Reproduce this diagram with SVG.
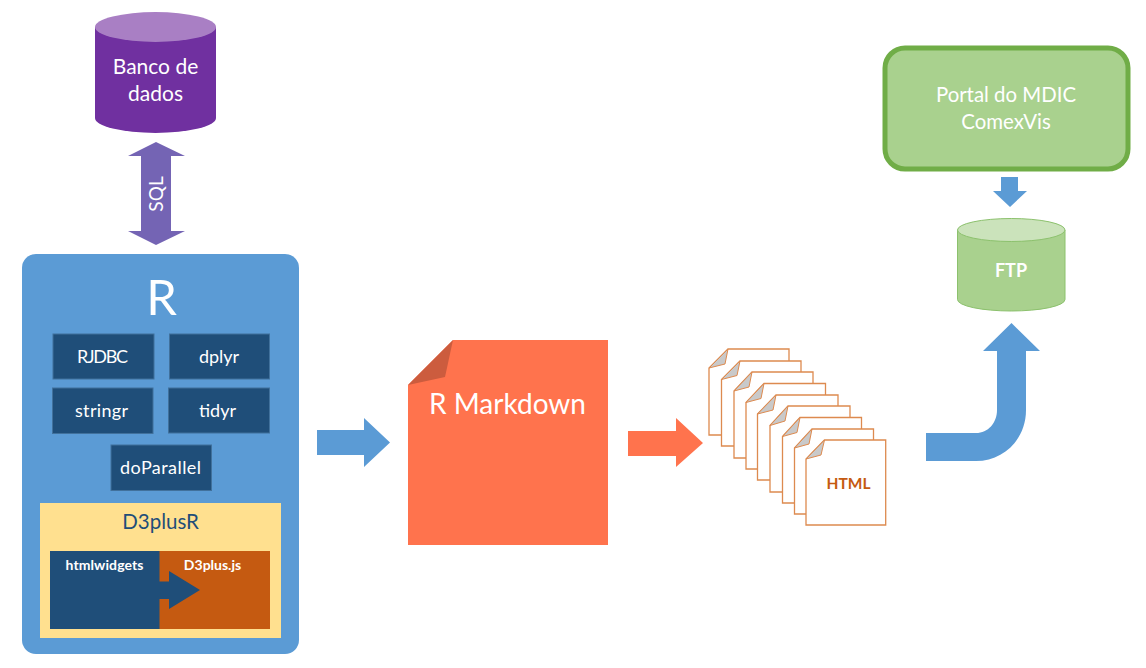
<svg xmlns="http://www.w3.org/2000/svg" width="1146" height="668" viewBox="0 0 1146 668">
<defs><style>
text{font-family:"Lato","Carlito","Open Sans",sans-serif;text-anchor:middle}
.w{fill:#fff}
.pkg{fill:#1f4e79;stroke:#41719c;stroke-width:1}
.pkgt{fill:#fff;font-size:18px}
.blue{fill:#5b9bd5}
.page{fill:#fff;stroke:#dd8a4f;stroke-width:1.3}
.fold{fill:#c9c9c9;stroke:#dd8a4f;stroke-width:1}
</style></defs>
<rect width="1146" height="668" fill="#fff"/>
<g id="banco-de-dados">
<path d="M95 27V118A60.5 15 0 0 0 216 118V27Z" fill="#7030a0"/>
<ellipse cx="155.500" cy="27" rx="60.500" ry="15" fill="#a97fc4"/>
<text class="w" font-size="21" x="155.500" y="73.500">Banco de</text>
<text class="w" font-size="21" x="155.500" y="100.500">dados</text>
</g>
<g id="r-box">
<rect x="22" y="254" width="277" height="400" rx="14" class="blue"/>
<text class="w" font-size="49" x="161.500" y="315">R</text>
</g>
<g id="rjdbc"><rect class="pkg" x="53" y="334" width="101" height="45"/><text class="pkgt" x="102.500" y="363" textLength="51">RJDBC</text></g>
<g id="dplyr"><rect class="pkg" x="169.500" y="334" width="100" height="45"/><text class="pkgt" x="219" y="363">dplyr</text></g>
<g id="stringr"><rect class="pkg" x="52.500" y="388" width="100.500" height="45.500"/><text class="pkgt" x="101.500" y="417" textLength="53">stringr</text></g>
<g id="tidyr"><rect class="pkg" x="168.500" y="388" width="101" height="45"/><text class="pkgt" x="217.500" y="417">tidyr</text></g>
<g id="doparallel"><rect class="pkg" x="111" y="445" width="100.500" height="45.500"/><text class="pkgt" x="160.500" y="474" textLength="81">doParallel</text></g>
<g id="d3plusr">
<rect x="40" y="503" width="241" height="135" fill="#ffe08f"/>
<text font-size="20.500" fill="#1f4e79" x="160.500" y="529">D3plusR</text>
</g>
<g id="d3plus-js">
<rect x="159" y="551" width="111" height="78" fill="#c55a11"/>
<text class="w" font-size="14" font-weight="700" x="212.500" y="570">D3plus.js</text>
</g>
<g id="htmlwidgets">
<rect x="50" y="551" width="109.500" height="78" fill="#1f4e79"/>
<text class="w" font-size="14" font-weight="700" x="104.500" y="570" textLength="78">htmlwidgets</text>
</g>
<g id="r-markdown">
<path d="M453 340H608V545H408V385Z" fill="#ff734d"/>
<path d="M453 340L445 377L408 385Z" fill="#cc5c3e"/>
<text class="w" font-size="28" x="507.500" y="414">R Markdown</text>
</g>
<g id="html-pages">
<g><path class="page" d="M728 349H789V435H709V368Z"/><path class="fold" d="M728 349L725 364L709 368Z"/></g>
<g><path class="page" d="M740 361H801V446H721.500V379.500Z"/><path class="fold" d="M740 361L737 375.500L721.500 379.500Z"/></g>
<g><path class="page" d="M752 372H813V458H734V391Z"/><path class="fold" d="M752 372L749 387L734 391Z"/></g>
<g><path class="page" d="M764 383.500H825.500V469H746V402.500Z"/><path class="fold" d="M764 383.500L761 398.500L746 402.500Z"/></g>
<g><path class="page" d="M776 395H838V480H757.500V414Z"/><path class="fold" d="M776 395L773 410L757.500 414Z"/></g>
<g><path class="page" d="M788 406H850V492H770V425.500Z"/><path class="fold" d="M788 406L785 421L770 425.500Z"/></g>
<g><path class="page" d="M800 417.500H861.500V503H782.500V436.500Z"/><path class="fold" d="M800 417.500L797 432.500L782.500 436.500Z"/></g>
<g><path class="page" d="M812 429H873.500V514H794.500V448Z"/><path class="fold" d="M812 429L809 444L794.500 448Z"/></g>
<g><path class="page" d="M824.500 440H885.700V525H806V459Z"/><path class="fold" d="M824.500 440L821 455L806 459Z"/></g>
<text font-size="15.500" font-weight="700" fill="#c55a11" x="848.500" y="489">HTML</text>
</g>
<g id="portal-mdic">
<rect x="885" y="48" width="243" height="121" rx="20" fill="#a9d18e" stroke="#70ad47" stroke-width="5"/>
<text class="w" font-size="20.400" x="1006" y="102">Portal do MDIC</text>
<text class="w" font-size="20.400" x="1006" y="129">ComexVis</text>
</g>
<g id="ftp">
<path d="M957.500 230V299.500A53.750 11.500 0 0 0 1065 299.500V230Z" fill="#a9d18e" stroke="#8cc16d" stroke-width="1"/>
<ellipse cx="1011.250" cy="230" rx="53.750" ry="11.500" fill="#cbe3bb" stroke="#8cc16d" stroke-width="1"/>
<text class="w" font-size="18" font-weight="700" x="1011" y="277">FTP</text>
</g>
<g id="connectors">
<path id="sql-arrow" d="M156 142L185 156H171V231H185L156 245L128 231H141V156H128Z" fill="#7464b4"/>
<text class="w" font-size="19" transform="translate(163 194) rotate(-90)">SQL</text>
<path id="arrow-r-to-markdown" class="blue" d="M317 430H364V418L390 442.500L364 467V455H317Z"/>
<path id="arrow-markdown-to-html" d="M628 431H676V418L703 443L676 467V456H628Z" fill="#ff734d"/>
<path id="arrow-html-to-ftp" class="blue" d="M926 433H976C988 433 997 423 997 410V351H983L1011.500 323L1040 351H1026V410C1026 439 1004 461 976 461H926Z"/>
<path id="arrow-portal-to-ftp" class="blue" d="M1001 177H1018V191H1027L1010 207L993 191H1001Z"/>
<path id="arrow-widgets-to-d3plus" d="M159 581.500H169V571L200 590L169 609V599H159Z" fill="#1f4e79"/>
</g>
</svg>
